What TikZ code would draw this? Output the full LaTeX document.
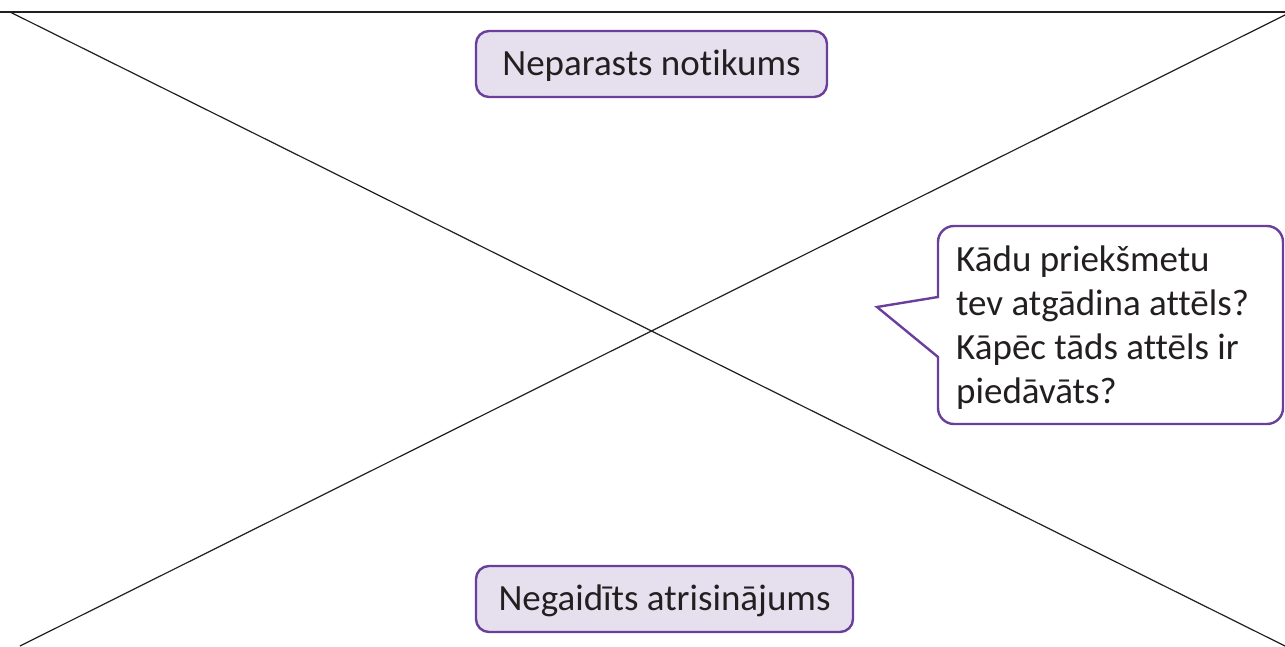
\documentclass[tikz,border=0pt]{standalone}
\usepackage{fontspec}
\setmainfont{Carlito}[RawFeature={-liga;-clig;-calt;-dlig}]
\definecolor{boxfill}{HTML}{E6DFEE}
\definecolor{boxline}{HTML}{6A3F9C}
\definecolor{ink}{HTML}{231F20}
\tikzset{
  crossline/.style={draw=ink, line width=1.2pt},
  labelbox/.style={draw=boxline, fill=boxfill, line width=2.4pt, rounded corners=13pt, inner sep=0pt, font=\fontsize{37}{44}\selectfont, text=ink, text height=23.8pt, text depth=0pt},
  bubble/.style={draw=boxline, fill=white, line width=2.4pt, line join=miter},
}
\begin{document}
\begin{tikzpicture}[x=1pt,y=1pt]
\useasboundingbox (0,0) rectangle (1285,646);
\coordinate (tl) at (10,634);
\coordinate (tr) at (1285,631);
\coordinate (bl) at (20,0);
\coordinate (br) at (1285,0);
\coordinate (topL) at (0,634);
\coordinate (topR) at (1285,634);
\draw[crossline] (topL) -- (topR);
\draw[crossline] (tl) -- (br);
\draw[crossline] (bl) -- (tr);
\node[labelbox, minimum width=351pt, minimum height=66pt] (event) at (651.5,582) {Neparasts notikums};
\node[labelbox, minimum width=377pt, minimum height=66pt] (solution) at (664.5,47) {Negaidīts atrisinājums};
\coordinate (pA) at (938,349);
\coordinate (tip) at (877,339);
\coordinate (pB) at (938,289);
\draw[bubble] (pA) -- (tip) -- (pB) [rounded corners=16pt] -- (938,222) -- (1283,222) -- (1283,420) -- (938,420) [sharp corners] -- cycle;
\node[anchor=north west, align=left, inner sep=0pt, font=\fontsize{37}{44}\selectfont, text=ink] (question) at (956,400) {Kādu priekšmetu\\tev atgādina attēls?\\Kāpēc tāds attēls ir\\piedāvāts?};
\end{tikzpicture}
\end{document}
